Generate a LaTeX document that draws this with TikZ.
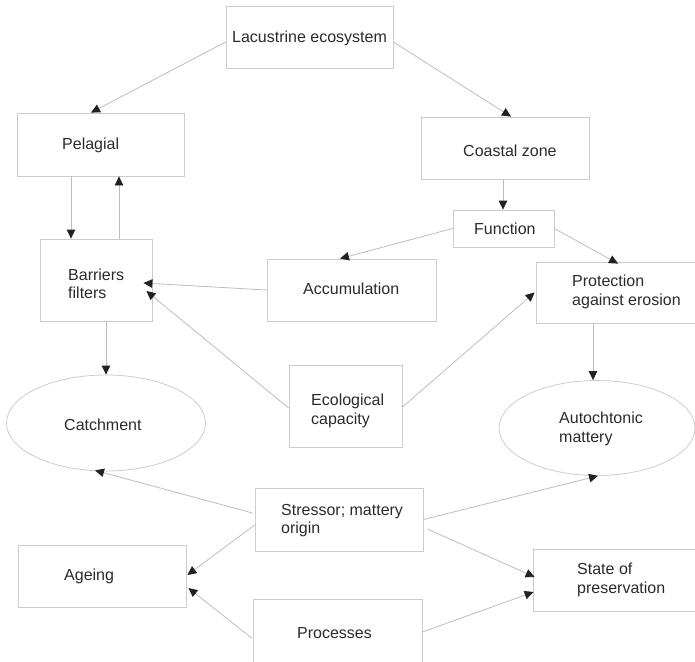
\documentclass[tikz,border=0pt]{standalone}
\usepackage{fontspec}
\setmainfont{Liberation Sans}
\usetikzlibrary{shapes.geometric,arrows.meta,calc}
\definecolor{boxline}{HTML}{CCCCCC}
\definecolor{conline}{HTML}{BDBDBD}
\definecolor{tipcol}{HTML}{222222}
\definecolor{txt}{HTML}{2A2A2A}
\begin{document}
\begin{tikzpicture}[x=1pt,y=-1pt,
  box/.style={draw=boxline,line width=0.8pt,rectangle,inner sep=0pt},
  oval/.style={draw=boxline,line width=0.8pt,ellipse,inner sep=0pt},
  lbl/.style={anchor=west,align=left,inner sep=0pt,text=txt,font=\fontsize{16}{18.5}\selectfont},
  con/.style={draw=conline,line width=0.8pt,-{Triangle[length=9pt,width=8.5pt,color=tipcol]}}]
\useasboundingbox (0,0) rectangle (695,661);
% boxes
\node[box,minimum width=167pt,minimum height=62pt] (lac) at (309.5,37) {};
\node[box,minimum width=167pt,minimum height=63pt] (pel) at (100.5,144.5) {};
\node[box,minimum width=168pt,minimum height=62pt] (coa) at (505,148) {};
\node[box,minimum width=101pt,minimum height=37pt] (fun) at (503.5,228.5) {};
\node[box,minimum width=112pt,minimum height=82pt] (bar) at (96,280) {};
\node[box,minimum width=169pt,minimum height=62pt] (acc) at (351.5,290) {};
\node[box,minimum width=164pt,minimum height=61pt] (pro) at (618,292.5) {};
\node[box,minimum width=113pt,minimum height=82pt] (eco) at (345.5,406) {};
\node[oval,minimum width=199pt,minimum height=96pt] (cat) at (106,423) {};
\node[oval,minimum width=196pt,minimum height=95pt] (aut) at (597,428) {};
\node[box,minimum width=168pt,minimum height=63pt] (str) at (339,519.5) {};
\node[box,minimum width=168pt,minimum height=62pt] (age) at (102,576) {};
\node[box,minimum width=167pt,minimum height=62pt] (sta) at (616.5,580) {};
\node[box,minimum width=169pt,minimum height=66pt] (prc) at (337.5,632) {};
% labels
\node[lbl] (tlac) at (232,38) {Lacustrine ecosystem};
\node[lbl] (tpel) at (62,145) {Pelagial};
\node[lbl] (tbar) at (68,284) {Barriers\\filters};
\node[lbl] (tcoa) at (463,151) {Coastal zone};
\node[lbl] (tfun) at (474,229) {Function};
\node[lbl] (tpro) at (572,292) {Protection\\against erosion};
\node[lbl] (tacc) at (303,289) {Accumulation};
\node[lbl] (teco) at (311,411) {Ecological\\capacity};
\node[lbl] (tcat) at (64,425) {Catchment};
\node[lbl] (taut) at (559,429) {Autochtonic\\mattery};
\node[lbl] (tstr) at (281,520.5) {Stressor; mattery\\origin};
\node[lbl] (tage) at (64,576) {Ageing};
\node[lbl] (tsta) at (577,580) {State of\\preservation};
\node[lbl] (tprc) at (297,633) {Processes};
% connectors
\draw[con] ($(lac.west)+(0,5)$) -- ($(pel.north)+(-9.5,0)$);
\draw[con] ($(lac.east)+(0,5)$) -- ($(coa.north)+(6,0)$);
\draw[con] ($(pel.south)+(-29.5,0)$) -- ($(bar.north)+(-25,0)$);
\draw[con] ($(bar.north)+(23,0)$) -- ($(pel.south)+(18.5,0)$);
\draw[con] ($(coa.south)+(-2,0)$) -- ($(fun.north)+(-0.5,0)$);
\draw[con] (fun.west) -- ($(acc.north)+(-11.5,0)$);
\draw[con] (fun.east) -- ($(pro.north)+(0,2)$);
\draw[con] (acc.west) -- ($(bar.east)+(-9,3)$);
\draw[con] ($(eco.west)+(0,2)$) -- ($(bar.east)+(-6,11)$);
\draw[con] ($(eco.east)+(0,1)$) -- ($(pro.west)+(-1,0)$);
\draw[con] ($(bar.south)+(10,0)$) -- (cat.north);
\draw[con] ($(pro.south)+(-25,0)$) -- ($(aut.north)+(-4,0)$);
\draw[con] ($(str.west)+(-2,-6.5)$) -- ($(cat.south)+(-11,-1)$);
\draw[con] (str.east) -- ($(aut.south)+(1,0)$);
\draw[con] ($(str.west)+(0,5.5)$) -- ($(age.east)+(1,-1)$);
\draw[con] ($(str.east)+(4,9.5)$) -- ($(sta.west)+(2,-3)$);
\draw[con] ($(prc.west)+(-1,6)$) -- ($(age.east)+(2,12)$);
\draw[con] (prc.east) -- ($(sta.west)+(1,12)$);
\end{tikzpicture}
\end{document}
